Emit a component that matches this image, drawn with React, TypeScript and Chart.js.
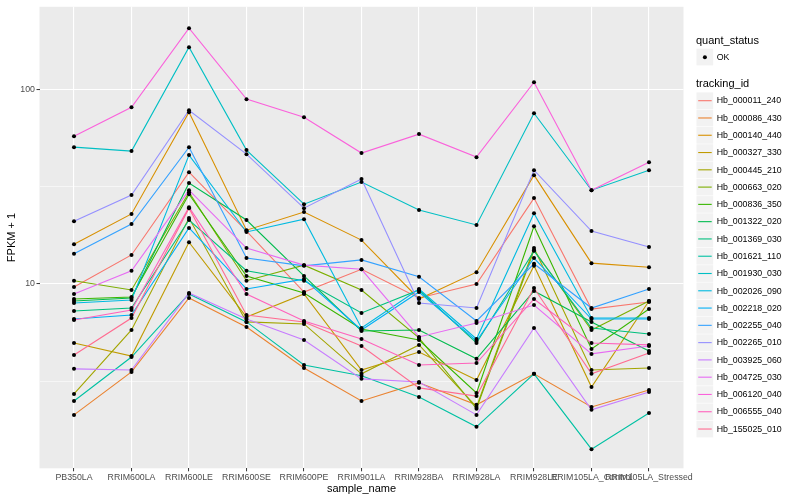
import { useEffect, useRef } from 'react';
import { Chart, registerables } from 'chart.js';

Chart.register(...registerables);

const categories = [
  'PB350LA', 'RRIM600LA', 'RRIM600LE', 'RRIM600SE', 'RRIM600PE', 'RRIM901LA',
  'RRIM928BA', 'RRIM928LA', 'RRIM928LE', 'RRIM105LA_Control', 'RRIM105LA_Stressed',
];

const trackingIds = [
  'Hb_000011_240', 'Hb_000086_430', 'Hb_000140_440', 'Hb_000327_330', 'Hb_000445_210',
  'Hb_000663_020', 'Hb_000836_350', 'Hb_001322_020', 'Hb_001369_030', 'Hb_001621_110',
  'Hb_001930_030', 'Hb_002026_090', 'Hb_002218_020', 'Hb_002255_040', 'Hb_002265_010',
  'Hb_003925_060', 'Hb_004725_030', 'Hb_006120_040', 'Hb_006555_040', 'Hb_155025_010',
];

const seriesColors = [
  '#F8766D', '#EA8331', '#D89000', '#C09B00', '#A3A500',
  '#7CAE00', '#39B600', '#00BB4E', '#00BF7D', '#00C1A3',
  '#00BFC4', '#00BAE0', '#00B0F6', '#35A2FF', '#9590FF',
  '#C77CFF', '#E76BF3', '#FA62DB', '#FF62BC', '#FF6C91',
];

const quantStatus = ['OK'];

// FPKM + 1 values per sample (same order as categories)
const hb000011_240 = [9.65, 14.1, 37.5, 18.7, 9.10, 11.9, 8.48, 10.0, 27.6, 7.44, 8.09];
const hb000086_430 = [2.13, 3.54, 8.48, 6.02, 3.71, 2.51, 3.11, 2.40, 3.46, 2.34, 2.86];
const hb000140_440 = [16.0, 22.9, 76.2, 18.9, 23.4, 16.8, 8.38, 11.5, 36.2, 12.8, 12.2];
const hb000327_330 = [4.98, 4.27, 16.4, 6.77, 8.89, 3.62, 4.48, 3.22, 12.4, 2.96, 8.18];
const hb000445_210 = [2.73, 5.81, 21.8, 6.39, 6.24, 3.46, 4.87, 2.34, 15.3, 3.62, 3.71];
const hb000663_020 = [10.4, 9.32, 29.6, 10.4, 12.5, 9.32, 5.29, 2.29, 14.9, 5.81, 8.18];
const hb000836_350 = [8.38, 8.58, 28.9, 11.0, 8.99, 5.88, 5.16, 2.76, 19.8, 4.64, 7.44];
const hb001322_020 = [8.18, 8.48, 33.0, 21.3, 11.0, 5.74, 5.81, 4.13, 9.21, 6.39, 4.53];
const hb001369_030 = [7.27, 7.53, 21.3, 11.7, 10.4, 7.10, 9.32, 4.98, 14.8, 5.95, 5.54];
const hb001621_110 = [2.51, 4.22, 8.89, 6.39, 3.84, 3.38, 2.63, 1.85, 3.46, 1.42, 2.18];
const hb001930_030 = [50.4, 48.1, 164.2, 48.7, 25.7, 33.4, 24.0, 20.1, 75.3, 30.3, 38.4];
const hb002026_090 = [7.99, 8.28, 45.9, 18.5, 21.5, 5.95, 9.43, 5.22, 23.1, 6.69, 6.69];
const hb002218_020 = [6.61, 6.93, 19.4, 9.43, 10.6, 5.81, 9.10, 5.10, 13.6, 6.61, 6.61];
const hb002255_040 = [14.3, 20.3, 50.4, 13.6, 12.4, 13.3, 10.9, 6.46, 12.7, 7.53, 9.43];
const hb002265_010 = [21.0, 28.6, 78.0, 46.4, 24.5, 34.6, 7.99, 7.53, 38.4, 18.7, 15.5];
const hb003925_060 = [3.67, 3.62, 8.99, 6.61, 5.16, 3.26, 3.14, 2.13, 5.95, 2.26, 2.79];
const hb004725_030 = [8.89, 11.7, 30.3, 15.3, 12.5, 11.9, 5.35, 6.31, 7.80, 4.38, 4.81];
const hb006120_040 = [57.4, 80.8, 205.5, 88.9, 71.8, 47.0, 58.8, 44.8, 108.6, 30.3, 42.2];
const hb006555_040 = [6.54, 7.36, 24.8, 8.89, 6.46, 5.22, 3.84, 3.93, 8.38, 4.98, 4.87];
const hb155025_010 = [4.32, 6.69, 24.5, 6.93, 6.39, 4.81, 2.93, 2.66, 9.54, 3.46, 4.43];

const seriesValues = [
  hb000011_240, hb000086_430, hb000140_440, hb000327_330, hb000445_210,
  hb000663_020, hb000836_350, hb001322_020, hb001369_030, hb001621_110,
  hb001930_030, hb002026_090, hb002218_020, hb002255_040, hb002265_010,
  hb003925_060, hb004725_030, hb006120_040, hb006555_040, hb155025_010,
];

const yTickValues = [10, 100];
const yTickLabels = ['10', '100'];
const yMinorValues = [3.1623, 31.623];
const yMin = 1.133;
const yMax = 264.8;

const FONT = '"Liberation Sans", Arial, sans-serif';

export default function App() {
  const ref = useRef<HTMLCanvasElement>(null);

  useEffect(() => {
    const canvas = ref.current;
    if (!canvas) return;

    const panelBg = {
      id: 'panelBg',
      beforeDraw(chart: any) {
        const { ctx, chartArea: a } = chart;
        ctx.save();
        ctx.fillStyle = '#FFFFFF';
        ctx.fillRect(0, 0, chart.width, chart.height);
        ctx.fillStyle = '#EBEBEB';
        ctx.fillRect(a.left, a.top, a.right - a.left, a.bottom - a.top);
        ctx.restore();
      },
    };

    const ggLegend = {
      id: 'ggLegend',
      afterDraw(chart: any) {
        const ctx = chart.ctx as CanvasRenderingContext2D;
        ctx.save();
        ctx.textBaseline = 'middle';
        ctx.textAlign = 'left';
        const x0 = 696.5;
        const key = 17.28;
        ctx.fillStyle = '#000000';
        ctx.font = `11px ${FONT}`;
        ctx.fillText('quant_status', 696, 40.5);
        ctx.fillStyle = '#F2F2F2';
        ctx.fillRect(x0, 48.7, key - 0.6, key - 0.6);
        ctx.fillStyle = '#000000';
        ctx.beginPath();
        ctx.arc(x0 + 8.4, 57.3, 2, 0, Math.PI * 2);
        ctx.fill();
        ctx.font = `8.8px ${FONT}`;
        ctx.fillText(quantStatus[0], 716.7, 57.5);

        ctx.font = `11px ${FONT}`;
        ctx.fillText('tracking_id', 696, 84.3);
        ctx.font = `8.8px ${FONT}`;
        trackingIds.forEach((id, i) => {
          const cy = 100.7 + i * key;
          ctx.fillStyle = '#F2F2F2';
          ctx.fillRect(x0, cy - 8.3, key - 0.6, key - 0.6);
          ctx.strokeStyle = seriesColors[i];
          ctx.lineWidth = 1.1;
          ctx.beginPath();
          ctx.moveTo(x0 + 1.7, cy);
          ctx.lineTo(x0 + 15.2, cy);
          ctx.stroke();
          ctx.fillStyle = '#000000';
          ctx.fillText(id, 716.7, cy + 0.3);
        });
        ctx.restore();
      },
    };

    const lineSets = seriesValues.map((vals, i) => ({
      type: 'line' as const,
      label: trackingIds[i],
      data: vals.map((v, j) => ({ x: j, y: v })),
      borderColor: seriesColors[i],
      backgroundColor: seriesColors[i],
      borderWidth: 1.1,
      pointRadius: 0,
      fill: false,
      tension: 0,
      order: 100 - i,
    }));

    const pointSet = {
      type: 'scatter' as const,
      label: quantStatus[0],
      data: seriesValues.flatMap((vals) => vals.map((v, j) => ({ x: j, y: v }))),
      backgroundColor: '#000000',
      borderColor: '#000000',
      borderWidth: 0,
      pointRadius: 2,
      showLine: false,
      order: 0,
    };

    const chart = new Chart(canvas, {
      type: 'line',
      data: { datasets: [...lineSets, pointSet] as any },
      options: {
        animation: false,
        responsive: false,
        events: [],
        font: { family: FONT },
        layout: { padding: { left: 0, top: 5, right: 116.5, bottom: 0 } },
        plugins: { legend: { display: false }, tooltip: { enabled: false } },
        scales: {
          x: {
            type: 'linear',
            min: -0.6,
            max: 10.6,
            bounds: 'data',
            afterBuildTicks: (s: any) => {
              s.ticks = categories.map((_, i) => ({ value: i }));
            },
            afterFit: (s: any) => {
              s.height = 31.7;
            },
            ticks: {
              autoSkip: false,
              maxRotation: 0,
              minRotation: 0,
              padding: 0.5,
              color: '#4D4D4D',
              font: { size: 8.8, family: FONT },
              callback: (v: any) => categories[v as number] ?? '',
            },
            grid: {
              color: '#FFFFFF',
              lineWidth: 1.1,
              drawTicks: true,
              tickLength: 3,
              tickColor: '#333333',
              tickWidth: 1,
            },
            border: { display: false },
            title: {
              display: true,
              text: 'sample_name',
              color: '#000000',
              font: { size: 11, family: FONT },
              padding: { top: 0, bottom: 4.5 },
            },
          },
          y: {
            type: 'logarithmic',
            min: yMin,
            max: yMax,
            bounds: 'data',
            afterBuildTicks: (s: any) => {
              s.ticks = [...yMinorValues, ...yTickValues]
                .sort((a, b) => a - b)
                .map((v) => ({ value: v }));
            },
            afterFit: (s: any) => {
              s.width = 39.5;
            },
            ticks: {
              autoSkip: false,
              padding: 1.5,
              color: '#4D4D4D',
              font: { size: 8.8, family: FONT },
              callback: (v: any) => {
                const k = yTickValues.indexOf(v as number);
                return k >= 0 ? yTickLabels[k] : '';
              },
            },
            grid: {
              color: '#FFFFFF',
              lineWidth: (c: any) => (yTickValues.includes(c.tick?.value) ? 1.1 : 0.55),
              drawTicks: true,
              tickLength: 3,
              tickWidth: 1,
              tickColor: (c: any) =>
                yTickValues.includes(c.tick?.value) ? '#333333' : 'rgba(0,0,0,0)',
            },
            border: { display: false },
            title: {
              display: true,
              text: 'FPKM + 1',
              color: '#000000',
              font: { size: 11, family: FONT },
              padding: { top: 5, bottom: 0 },
            },
          },
        },
      } as any,
      plugins: [panelBg, ggLegend],
    });

    return () => chart.destroy();
  }, []);

  return (
    <div style={{ position: 'absolute', left: 0, top: 0, width: 800, height: 500, background: '#FFFFFF' }}>
      <canvas ref={ref} width={800} height={500} style={{ width: 800, height: 500, display: 'block' }} />
    </div>
  );
}
